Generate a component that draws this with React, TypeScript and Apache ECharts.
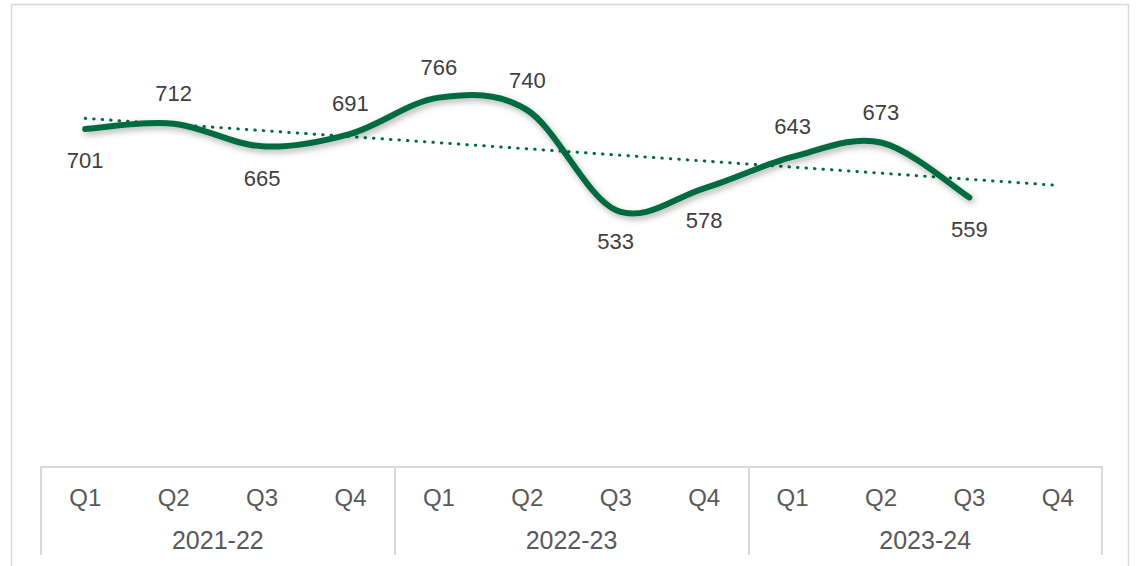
import React, { useEffect, useRef } from "react";
import * as echarts from "echarts";

const quarters = ["Q1", "Q2", "Q3", "Q4", "Q1", "Q2", "Q3", "Q4", "Q1", "Q2", "Q3", "Q4"];
const years = ["2021-22", "2022-23", "2023-24"];
const values: (number | null)[] = [701, 712, 665, 691, 766, 740, 533, 578, 643, 673, 559, null];
const trendStart = 723;
const trendEnd = 584;
const labelSides = ["bottom", "top", "bottom", "top", "top", "top", "bottom", "bottom", "top", "top", "bottom", "top"];

const GREEN = "#006B3F";
const GRAY = "#D9D9D9";
const FONT = "Liberation Sans, Arial, sans-serif";

// Catmull-Rom style smoothed path (like a spreadsheet "smoothed line")
const SmoothLine = echarts.graphic.extendShape({
  shape: { points: [] as number[][] },
  buildPath(ctx: any, shape: any) {
    const p: number[][] = shape.points;
    if (!p || p.length < 2) return;
    ctx.moveTo(p[0][0], p[0][1]);
    for (let i = 0; i < p.length - 1; i++) {
      const p0 = p[i - 1] || p[i];
      const p1 = p[i];
      const p2 = p[i + 1];
      const p3 = p[i + 2] || p[i + 1];
      const c1x = p1[0] + (p2[0] - p0[0]) / 6;
      const c1y = p1[1] + (p2[1] - p0[1]) / 6;
      const c2x = p2[0] - (p3[0] - p1[0]) / 6;
      const c2y = p2[1] - (p3[1] - p1[1]) / 6;
      ctx.bezierCurveTo(c1x, c1y, c2x, c2y, p2[0], p2[1]);
    }
  },
});
echarts.graphic.registerShape("smoothLine", SmoothLine);

export default function App() {
  const ref = useRef<HTMLDivElement>(null);
  useEffect(() => {
    if (!ref.current) return;
    const chart = echarts.init(ref.current, undefined, { renderer: "svg" });
    const trendData = values.map((_, i) => (i === 0 ? trendStart : i === values.length - 1 ? trendEnd : null));
    const scatterData = values.map((v, i) => ({
      value: [i, v],
      label: {
        position: labelSides[i],
        distance: labelSides[i] === "top" ? 18 : 20,
      },
    })).filter((d) => d.value[1] !== null);
    chart.setOption({
      animation: false,
      backgroundColor: "#ffffff",
      textStyle: { fontFamily: FONT },
      graphic: [
        {
          type: "rect",
          shape: { x: 11.5, y: 4.5, width: 1117, height: 620 },
          style: { fill: "none", stroke: GRAY, lineWidth: 1.5 },
          silent: true,
          z: -10,
        },
      ],
      grid: { left: 41, right: 34, top: 33, bottom: 99, containLabel: false },
      xAxis: [
        {
          type: "category",
          data: quarters,
          position: "bottom",
          boundaryGap: true,
          axisLine: { show: false },
          axisTick: { show: false },
          axisLabel: { color: "#595959", fontSize: 24, lineHeight: 24, margin: 18, fontFamily: FONT },
          splitLine: { show: false },
        },
        {
          type: "category",
          data: years,
          position: "bottom",
          boundaryGap: true,
          axisLine: { show: true, lineStyle: { color: GRAY, width: 2 } },
          axisTick: { show: true, length: 88, lineStyle: { color: GRAY, width: 2 } },
          axisLabel: { color: "#595959", fontSize: 25, lineHeight: 25, margin: 60, fontFamily: FONT },
          splitLine: { show: false },
        },
      ],
      yAxis: {
        type: "value",
        min: 0,
        max: 900,
        show: false,
        splitLine: { show: false },
      },
      series: [
        {
          type: "line",
          name: "trend",
          xAxisIndex: 0,
          data: trendData,
          connectNulls: true,
          symbol: "none",
          smooth: false,
          lineStyle: { color: GREEN, width: 3, type: [0.5, 8], cap: "round" },
          z: 1,
        },
        {
          type: "custom",
          name: "value",
          coordinateSystem: "cartesian2d",
          xAxisIndex: 0,
          data: [[0, values[0]]],
          silent: true,
          z: 2,
          renderItem: (_params: any, api: any) => {
            const pts: number[][] = [];
            values.forEach((v, i) => {
              if (v !== null) pts.push(api.coord([i, v]));
            });
            return {
              type: "smoothLine",
              shape: { points: pts },
              style: {
                fill: "none",
                stroke: GREEN,
                lineWidth: 6,
                lineCap: "round",
                lineJoin: "round",
                shadowColor: "rgba(0,0,0,0.3)",
                shadowBlur: 6,
                shadowOffsetX: 2,
                shadowOffsetY: 3,
              },
            };
          },
        },
        {
          type: "scatter",
          name: "labels",
          xAxisIndex: 0,
          data: scatterData,
          symbol: "circle",
          symbolSize: 2,
          itemStyle: { color: "rgba(0,0,0,0)", borderWidth: 0, opacity: 1 },
          label: {
            show: true,
            color: "#404040",
            fontSize: 22,
            lineHeight: 22,
            fontFamily: FONT,
            formatter: (p: any) => String(p.value[1]),
          },
          labelLayout: { hideOverlap: false },
          z: 3,
        },
      ],
    });
    return () => chart.dispose();
  }, []);
  return (
    <div
      ref={ref}
      style={{ position: "fixed", left: 0, top: 0, width: 1136, height: 566, background: "#fff" }}
    />
  );
}
